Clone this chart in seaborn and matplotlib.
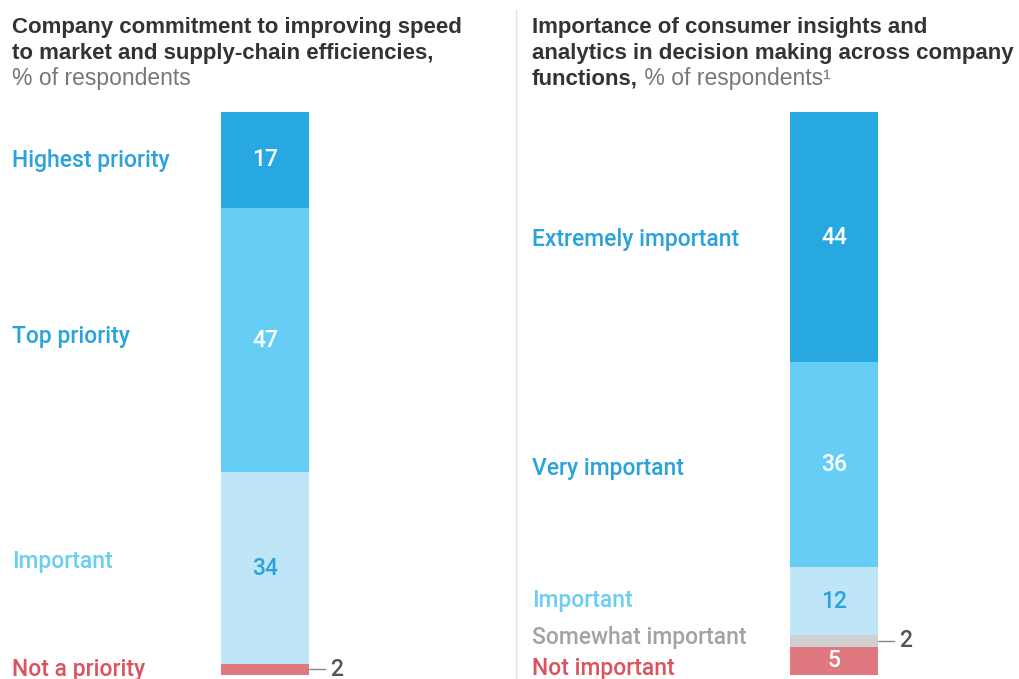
import matplotlib
matplotlib.use("Agg")
import matplotlib.pyplot as plt
import matplotlib.transforms as mtransforms
import seaborn as sns
import numpy as np

# ---- data ----
left_labels = ["Highest priority", "Top priority", "Important", "Not a priority"]
left_values = [17, 47, 34, 2]
right_labels = ["Extremely important", "Very important", "Important",
                "Somewhat important", "Not important"]
right_values = [44, 36, 12, 2, 5]

left_title = ["Company commitment to improving speed",
              "to market and supply-chain efficiencies,"]
left_sub = "% of respondents"
right_title = ["Importance of consumer insights and",
               "analytics in decision making across company",
               "functions,"]
right_sub = " % of respondents\u00b9"

# ---- styles ----
DARK = "#27a8e0"
MID = "#66cdf4"
LIGHT = "#bee6f7"
GREY = "#d0d0d0"
RED = "#e07880"
left_colors = [DARK, MID, LIGHT, RED]
right_colors = [DARK, MID, LIGHT, GREY, RED]
left_text = ["#2aa2db", "#2aa2db", "#6ccdf2", "#d9545e"]
right_text = ["#2aa2db", "#2aa2db", "#6ccdf2", "#a3a3a3", "#d9545e"]
left_val_col = ["white", "white", "#2aa2db", None]
right_val_col = ["white", "white", "#2aa2db", None, "white"]
# label nudges in pixels (positive = down)
left_nudge = [1, -4, -7, 0]
right_nudge = [2, 4, -1, -3, 8]

sns.set_theme(style="white")
plt.rcParams["font.family"] = ["Liberation Sans", "DejaVu Sans"]
LABEL_FONT = ["Roboto", "Liberation Sans", "DejaVu Sans"]

W, H = 1020, 679
fig = plt.figure(figsize=(W / 100, H / 100), dpi=100)


def px_axes(x0, y0, x1, y1):
    return fig.add_axes([x0 / W, 1 - y1 / H, (x1 - x0) / W, (y1 - y0) / H])


def draw_panel(ax, labels, values, colors, tcols, vcols, nudges, label_x):
    total = sum(values)
    cum = np.cumsum(values)
    # overlay cumulative bars, largest first, so they look stacked
    for i in range(len(values) - 1, -1, -1):
        sns.barplot(x=["a"], y=[cum[i]], color=colors[i], width=1.0,
                    saturation=1, ax=ax, edgecolor="none")
    ax.set_ylim(total, 0)
    ax.set_xlim(-0.5, 0.5)
    ax.axis("off")
    tr = mtransforms.blended_transform_factory(fig.transFigure, ax.transData)
    for i, (lab, v) in enumerate(zip(labels, values)):
        mid = cum[i] - v / 2
        off = mtransforms.offset_copy(tr, fig=fig, x=0, y=-nudges[i], units="dots")
        ax.text(label_x / W, mid, lab, transform=off, color=tcols[i],
                fontsize=16.5, va="center", ha="left", family=LABEL_FONT,
                fontweight="medium")
        if vcols[i] is not None:
            ax.text(0, mid, str(v), color=vcols[i], fontsize=16.5,
                    va="center", ha="center", family=LABEL_FONT,
                    fontweight="medium")
        else:
            ax.plot([0.5, 0.68], [mid, mid], color="#888888", lw=1,
                    clip_on=False)
            ax.text(0.74, mid, str(v), color="#555555", fontsize=16.5,
                    va="center", ha="left", clip_on=False,
                    family=LABEL_FONT, fontweight="medium")


axL = px_axes(221, 112, 309, 675)
draw_panel(axL, left_labels, left_values, left_colors, left_text,
           left_val_col, left_nudge, 12)
axR = px_axes(790, 112, 878, 675)
draw_panel(axR, right_labels, right_values, right_colors, right_text,
           right_val_col, right_nudge, 532)

# titles
BASE = 33
for k, line in enumerate(left_title):
    fig.text(12 / W, 1 - (BASE + 26 * k) / H, line, fontsize=16,
             fontweight="bold", color="#333333", va="baseline")
fig.text(12 / W, 1 - (BASE + 26 * 2) / H, left_sub, fontsize=16.5,
         color="#777777", va="baseline")

last = None
for k, line in enumerate(right_title):
    last = fig.text(532 / W, 1 - (BASE + 26 * k) / H, line, fontsize=16,
                    fontweight="bold", color="#333333", va="baseline")
fig.canvas.draw()
bb = last.get_window_extent(renderer=fig.canvas.get_renderer())
fig.text(bb.x1 / W, 1 - (BASE + 26 * 2) / H, right_sub, fontsize=16.5,
         color="#777777", va="baseline")

# divider
fig.add_artist(plt.Line2D([516 / W, 516 / W], [0, 1 - 10 / H],
                          color="#e3e3e3", lw=1))

fig.savefig("out.png", dpi=100)
